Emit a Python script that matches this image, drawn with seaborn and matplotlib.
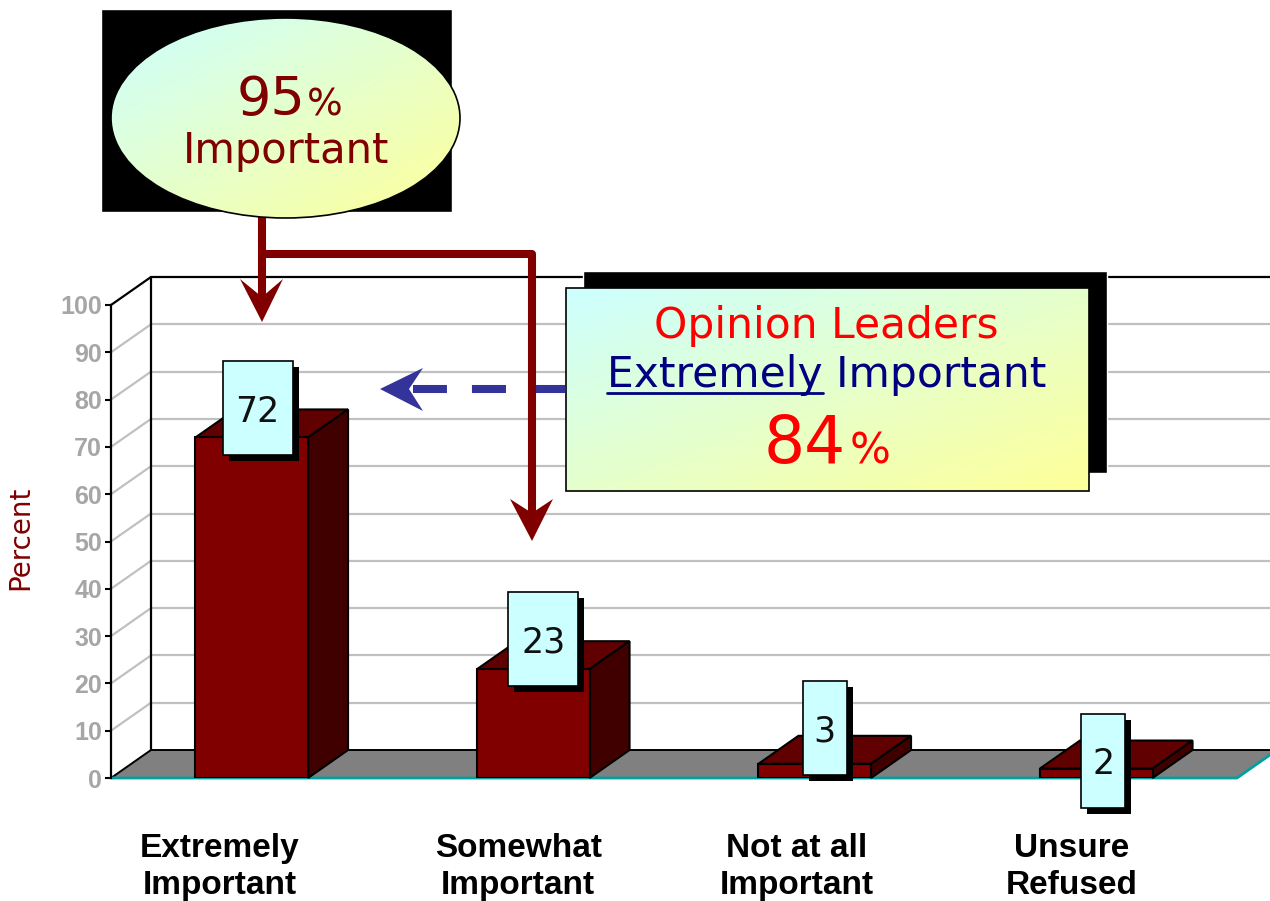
import numpy as np
import pandas as pd
import matplotlib
matplotlib.use("Agg")
import matplotlib.pyplot as plt
import seaborn as sns
from matplotlib.patches import Polygon, Rectangle, Ellipse
from matplotlib.lines import Line2D

# ---- data ----
categories = ["Extremely\nImportant", "Somewhat\nImportant",
              "Not at all\nImportant", "Unsure\nRefused"]
percent = [72, 23, 3, 2]
y_ticks = [0, 10, 20, 30, 40, 50, 60, 70, 80, 90, 100]
total_important = "95"
leaders_extremely = "84"

# ---- style ----
sns.set_style("white")
plt.rcParams["font.family"] = ["DejaVu Sans"]
plt.rcParams["lines.scale_dashes"] = False

FRONT, TOP, SIDE = "#800000", "#600000", "#400000"
GRID = "#c0c0c0"
BOX = "#ccffff"
TXT_W = "normal"

W, H = 1270, 901
fig = plt.figure(figsize=(W / 100, H / 100), dpi=100)

# front plane of the 3-D plot, in pixels
X0, X1, Y0, Y1 = 111, 1237, 305, 778
ax = fig.add_axes([X0 / W, (H - Y1) / H, (X1 - X0) / W, (Y1 - Y0) / H])
ax.patch.set_visible(False)

df = pd.DataFrame({"category": categories, "percent": percent})
sns.barplot(data=df, x="category", y="percent", color=FRONT, saturation=1,
            width=0.4, edgecolor="black", linewidth=1.5, ax=ax)
for p in ax.patches:
    p.set_zorder(5)

ax.set_xlim(-0.5, 3.5)
ax.set_ylim(0, 100)
sx = (X1 - X0) / 4.0      # px per category
sy = (Y1 - Y0) / 100.0    # px per percent
ddx, ddy = 40 / sx, 28 / sy   # depth of the box
half = 0.2
xl, xr = -0.5, 3.5 + ddx + 0.3

# back wall and side wall gridlines
for v in y_ticks[1:-1]:
    ax.plot([xl + ddx, xr], [v + ddy] * 2, color=GRID, lw=1.6,
            clip_on=False, zorder=1)
    ax.plot([xl, xl + ddx], [v, v + ddy], color=GRID, lw=1.6,
            clip_on=False, zorder=1)
ax.plot([xl, xl + ddx, xr], [100, 100 + ddy, 100 + ddy], color="black",
        lw=1.6, clip_on=False, zorder=1)
ax.plot([xl + ddx] * 2, [ddy, 100 + ddy], color="black", lw=1.6,
        clip_on=False, zorder=1)

# floor
floor = Polygon([(xl, 0), (xl + ddx, ddy), (3.5 + ddx, ddy), (3.5, 0)],
                closed=True, facecolor="#808080", edgecolor="none",
                clip_on=False, zorder=2)
ax.add_patch(floor)
ax.plot([xl, xl + ddx, 3.5 + ddx], [0, ddy, ddy], color="black", lw=1.4,
        clip_on=False, zorder=2.2)
ax.plot([xl, 3.5, 3.5 + ddx], [0, 0, ddy], color="#00a0a0", lw=2,
        clip_on=False, zorder=2.2)

# 3-D top and side faces of each bar
for i, v in enumerate(percent):
    l, r = i - half, i + half
    top = Polygon([(l, v), (l + ddx, v + ddy), (r + ddx, v + ddy), (r, v)],
                  closed=True, facecolor=TOP, edgecolor="black", lw=1.5,
                  clip_on=False, zorder=4)
    side = Polygon([(r, 0), (r, v), (r + ddx, v + ddy), (r + ddx, ddy)],
                   closed=True, facecolor=SIDE, edgecolor="black", lw=1.5,
                   clip_on=False, zorder=4)
    ax.add_patch(top)
    ax.add_patch(side)

# value tags
tag_nudge = [(6, 29), (10, 30), (10, 36), (7, 8)]   # px from bar top
for i, v in enumerate(percent):
    txt = str(v)
    bw = (70 if len(txt) > 1 else 44) / sx
    bh = 94 / sy
    cx = i + tag_nudge[i][0] / sx
    cy = v + tag_nudge[i][1] / sy
    ax.add_patch(Rectangle((cx - bw / 2 + 6 / sx, cy - bh / 2 - 6 / sy), bw, bh,
                           facecolor="black", edgecolor="none",
                           clip_on=False, zorder=8))
    ax.add_patch(Rectangle((cx - bw / 2, cy - bh / 2), bw, bh,
                           facecolor=BOX, edgecolor="black", lw=1.2,
                           clip_on=False, zorder=9))
    ax.text(cx, cy - 13.5 / sy, txt, ha="center", va="baseline",
            fontsize=25, fontweight=TXT_W, color="#111111", zorder=10,
            clip_on=False)

# category labels under the floor
label_nudge = [-32, -15, -18, -25]
for i, lab in enumerate(categories):
    ax.annotate(lab, xy=(i, 0), xytext=(label_nudge[i] * 0.72, -116 * 0.72),
                textcoords="offset points", ha="center", va="baseline",
                fontsize=24, fontweight="bold", family="Liberation Sans",
                color="black", linespacing=1.25, annotation_clip=False)

# axes decoration
ax.set_xlabel("")
ax.set_ylabel("")
ax.tick_params(axis="x", bottom=False, labelbottom=False)
ax.set_yticks(y_ticks)
ax.tick_params(axis="y", left=True, direction="out", length=4.5, width=1.5,
               color="black", labelcolor="#a6a6a6", labelsize=18, pad=2)
for t in ax.get_yticklabels():
    t.set_fontweight("bold")
    t.set_family("Liberation Sans")
for s in ["top", "right", "bottom"]:
    ax.spines[s].set_visible(False)
ax.spines["left"].set_color("black")
ax.spines["left"].set_linewidth(1.6)

fig.text(20 / W, 1 - 538 / H, "Percent", rotation=90, ha="center",
         va="center", color="#800000", fontsize=20, fontweight=TXT_W)

# ---- callouts, in pixel coordinates ----
ov = fig.add_axes([0, 0, 1, 1])
ov.set_xlim(0, W)
ov.set_ylim(H, 0)
ov.axis("off")
ov.patch.set_alpha(0)


def gradient(x0, y0, w, h, clip, z):
    n = 200
    u = np.linspace(0, 1, n)[None, :]
    v = np.linspace(0, 1, n)[:, None]
    t = np.clip((u + v) / 2, 0, 1)[..., None]
    c0 = np.array([204, 255, 255]) / 255
    c1 = np.array([255, 255, 153]) / 255
    img = c0 * (1 - t) + c1 * t
    im = ov.imshow(img, extent=(x0, x0 + w, y0 + h, y0), origin="upper",
                   aspect="auto", interpolation="bilinear", zorder=z)
    im.set_clip_path(clip)


# oval callout
ov.add_patch(Rectangle((101, 9), 351, 203, facecolor="black", zorder=20))
oval = Ellipse((285.5, 118), 349, 200, facecolor="none", edgecolor="black",
               lw=1.2, zorder=22)
ov.add_patch(oval)
gradient(111, 18, 349, 200, oval, 21)
ov.text(305, 115, total_important, ha="right", va="baseline", fontsize=39,
        fontweight=TXT_W, color="#800000", zorder=23)
ov.text(307, 115, "%", ha="left", va="baseline", fontsize=27,
        fontweight=TXT_W, color="#800000", zorder=23)
ov.text(286.5, 163, "Important", ha="center", va="baseline", fontsize=30,
        fontweight=TXT_W, color="#800000", zorder=23)

# rectangular callout
ov.add_patch(Rectangle((583, 271), 524, 202, facecolor="black", zorder=20))
box = Rectangle((566, 288), 523, 203, facecolor="none", edgecolor="black",
                lw=1.2, zorder=22)
ov.add_patch(box)
gradient(566, 288, 523, 203, box, 21)
ov.text(826.5, 338, "Opinion Leaders", ha="center", va="baseline",
        fontsize=30.5, fontweight=TXT_W, color="#ff0000", zorder=23)
line2 = ov.text(826.8, 386.6, "Extremely Important", ha="center",
                va="baseline", fontsize=30.5, fontweight=TXT_W,
                color="#000080", zorder=23)
ov.text(846, 463, leaders_extremely, ha="right", va="baseline", fontsize=46.5,
        fontweight=TXT_W, color="#ff0000", zorder=23)
ov.text(850, 463, "%", ha="left", va="baseline", fontsize=31,
        fontweight=TXT_W, color="#ff0000", zorder=23)

# underline the first word of the second line
fig.canvas.draw()
rend = fig.canvas.get_renderer()
bb = line2.get_window_extent(rend)
probe = ov.text(0, 0, "Extremely", fontsize=30.5, fontweight=TXT_W)
wpx = probe.get_window_extent(rend).width
probe.remove()
inv = ov.transData.inverted()
ux0 = inv.transform((bb.x0, 0))[0]
ux1 = inv.transform((bb.x0 + wpx, 0))[0]
ov.add_line(Line2D([ux0, ux1], [393, 393], color="#000080", lw=2, zorder=23))

# dashed pointer to the first bar
ov.add_line(Line2D([565, 413], [389, 389], color="#333399", lw=5.8,
                   linestyle=(0, (24.5, 18)), solid_capstyle="butt",
                   dash_capstyle="butt", zorder=18))
ov.add_patch(Polygon([(380, 389), (423, 368), (409, 389), (423, 411)],
                     closed=True, facecolor="#333399", edgecolor="none",
                     zorder=18))

# red connector arrows from the oval
red = "#800000"
ov.add_line(Line2D([262, 262], [212, 300], color=red, lw=5.8, zorder=19,
                   solid_capstyle="butt"))
ov.add_patch(Polygon([(240, 279), (262, 322), (283, 279), (262, 297)],
                     closed=True, facecolor=red, edgecolor="none", zorder=19))
ov.add_line(Line2D([262, 531.5, 531.5], [253.5, 253.5, 516], color=red,
                   lw=5.8, zorder=19, solid_joinstyle="round",
                   solid_capstyle="butt"))
ov.add_patch(Polygon([(510, 499), (532, 541), (553, 499), (532, 513)],
                     closed=True, facecolor=red, edgecolor="none", zorder=19))

ov.set_xlim(0, W)
ov.set_ylim(H, 0)

fig.savefig("out.png", dpi=100)
